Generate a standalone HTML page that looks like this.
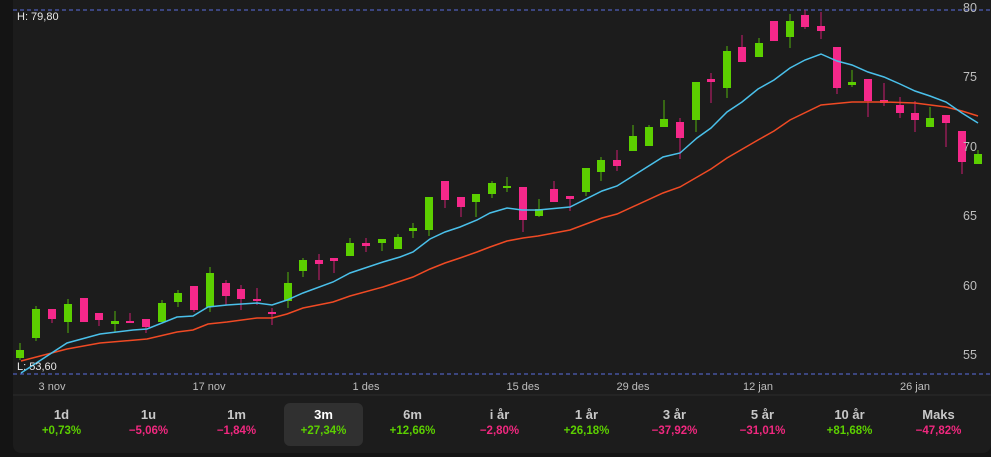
<!DOCTYPE html>
<html><head><meta charset="utf-8"><style>
html,body{margin:0;padding:0;background:#141414;width:991px;height:457px;overflow:hidden;font-family:"Liberation Sans",sans-serif}
#p{position:absolute;left:13px;top:0;width:978px;height:453px;background:#1c1c1c;border-radius:0 0 8px 8px}
.t{position:absolute;top:403px;width:79px;height:43px;text-align:center;border-radius:6px}
.t b{display:block;font-size:13px;color:#c8c8c8;margin-top:4px;font-weight:bold}
.t span{display:block;font-size:11.5px;margin-top:3px;font-weight:bold}
.g{color:#5ccf00}.r{color:#f0287f}
</style></head><body>
<div id="p"></div>
<svg id="s" width="991" height="457" style="position:absolute;left:0;top:0" font-family="Liberation Sans, sans-serif">
<line x1="13" y1="10" x2="991" y2="10" stroke="#5a6ee0" stroke-dasharray="4,3" stroke-width="1"/>
<line x1="13" y1="374" x2="991" y2="374" stroke="#5a6ee0" stroke-dasharray="4,3" stroke-width="1"/>
<line x1="13" y1="395" x2="991" y2="395" stroke="#2c2c2c" stroke-width="1"/>
<g id="c"></g>
<polyline fill="none" stroke="#f04a24" stroke-width="1.5" points="21,361 67,349 100,343 147,339 177,332 193,330 208,324 227,322 257,318 272,318 287,314 303,308 333,302 350,296 383,287 413,277 430,269 445,263 460,258 477,252 490,247 507,241 523,238 538,236 570,230 602,218 617,214 663,193 680,187 711,169 727,158 758,140 774,131 790,120 821,105 852,102 884,102 915,103 946,107 962,111 978,116"/>
<polyline fill="none" stroke="#4ac0ea" stroke-width="1.5" points="21,373 67,343 100,334 133,330 147,329 177,317 193,316 208,307 227,305 257,303 272,305 287,300 303,293 333,282 350,273 383,262 400,257 413,252 430,239 445,232 460,227 477,220 490,213 507,208 522,210 538,210 570,207 602,191 617,186 663,157 680,153 697,138 711,128 727,112 742,102 758,89 774,80 790,68 805,60 821,54 837,61 852,65 868,72 884,77 900,84 915,91 930,96 946,102 962,113 978,123"/>
<g fill="#e8e8e8" font-size="11"><text x="17" y="20">H: 79,80</text><text x="17" y="370">L: 53,60</text></g>
<g fill="#bdbdbd" font-size="12.5">
<text x="963" y="12">80</text><text x="963" y="81">75</text><text x="963" y="151">70</text><text x="963" y="220">65</text><text x="963" y="290">60</text><text x="963" y="359">55</text></g>
<g fill="#bdbdbd" font-size="11" text-anchor="middle">
<text x="52" y="390">3 nov</text><text x="209" y="390">17 nov</text><text x="366" y="390">1 des</text><text x="523" y="390">15 des</text><text x="633" y="390">29 des</text><text x="758" y="390">12 jan</text><text x="915" y="390">26 jan</text></g>
</svg>
<div class="t" style="left:22px"><b>1d</b><span class="g">+0,73%</span></div>
<div class="t" style="left:109px"><b>1u</b><span class="r">−5,06%</span></div>
<div class="t" style="left:197px"><b>1m</b><span class="r">−1,84%</span></div>
<div class="t" style="left:284px;background:#303030"><b style="color:#fff">3m</b><span class="g">+27,34%</span></div>
<div class="t" style="left:373px"><b>6m</b><span class="g">+12,66%</span></div>
<div class="t" style="left:460px"><b>i år</b><span class="r">−2,80%</span></div>
<div class="t" style="left:547px"><b>1 år</b><span class="g">+26,18%</span></div>
<div class="t" style="left:635px"><b>3 år</b><span class="r">−37,92%</span></div>
<div class="t" style="left:723px"><b>5 år</b><span class="r">−31,01%</span></div>
<div class="t" style="left:810px"><b>10 år</b><span class="g">+81,68%</span></div>
<div class="t" style="left:899px"><b>Maks</b><span class="r">−47,82%</span></div>
<script>
var d=[[20,350,358,343,360,1],[36,309,338,306,341,1],[52,309,319,309,323,0],[68,304,322,299,333,1],[84,298,322,298,322,0],[99,313,320,313,326,0],[115,321,324,311,332,1],[130,321,322,313,322,0],[146,319,327,319,333,0],[162,303,322,300,322,1],[178,293,302,290,307,1],[194,286,310,286,312,0],[210,273,307,267,312,1],[226,283,296,280,305,0],[241,289,299,285,310,0],[257,299,301,288,305,0],[272,312,313,308,325,0],[288,283,301,272,308,1],[303,260,271,258,277,1],[319,260,264,254,280,0],[334,258,261,258,273,0],[350,243,256,238,256,1],[366,243,246,238,252,0],[382,239,243,239,251,1],[398,237,249,234,249,1],[413,228,231,223,238,1],[429,197,230,197,236,1],[445,181,200,181,208,0],[461,197,207,197,217,0],[476,194,202,194,217,1],[492,183,194,181,198,1],[507,186,187,177,192,1],[523,187,220,187,232,0],[539,209,216,199,217,1],[554,189,202,181,202,0],[570,196,199,196,211,0],[586,168,192,168,196,1],[601,160,172,157,181,1],[617,160,166,150,171,0],[633,136,151,125,151,1],[649,127,146,125,146,1],[664,119,127,100,127,1],[680,122,138,118,159,0],[696,82,120,82,132,1],[711,79,82,73,103,0],[727,51,88,46,98,1],[742,47,62,35,62,0],[759,43,57,38,57,1],[774,21,41,21,41,0],[790,21,37,14,48,1],[805,15,27,10,29,0],[821,26,31,12,39,0],[837,47,88,47,94,0],[852,82,85,70,87,1],[868,79,101,79,117,0],[884,100,103,83,106,0],[900,105,113,97,118,0],[915,113,120,101,132,0],[930,118,127,107,127,1],[946,115,123,115,147,0],[962,131,162,131,174,0],[978,154,164,150,164,1]];
var h='';d.forEach(function(c){var b=c[5]?'#5ccf00':'#f5288a',w=c[5]?'#4a9a10':'#b01e62';
h+='<line x1="'+c[0]+'" x2="'+c[0]+'" y1="'+c[3]+'" y2="'+c[4]+'" stroke="'+w+'" stroke-width="1.2"/>';
var hh=Math.max(c[2]-c[1],2);h+='<rect x="'+(c[0]-4)+'" y="'+c[1]+'" width="8" height="'+hh+'" fill="'+b+'"/>';});
document.getElementById('c').innerHTML=h;
</script>
</body></html>
